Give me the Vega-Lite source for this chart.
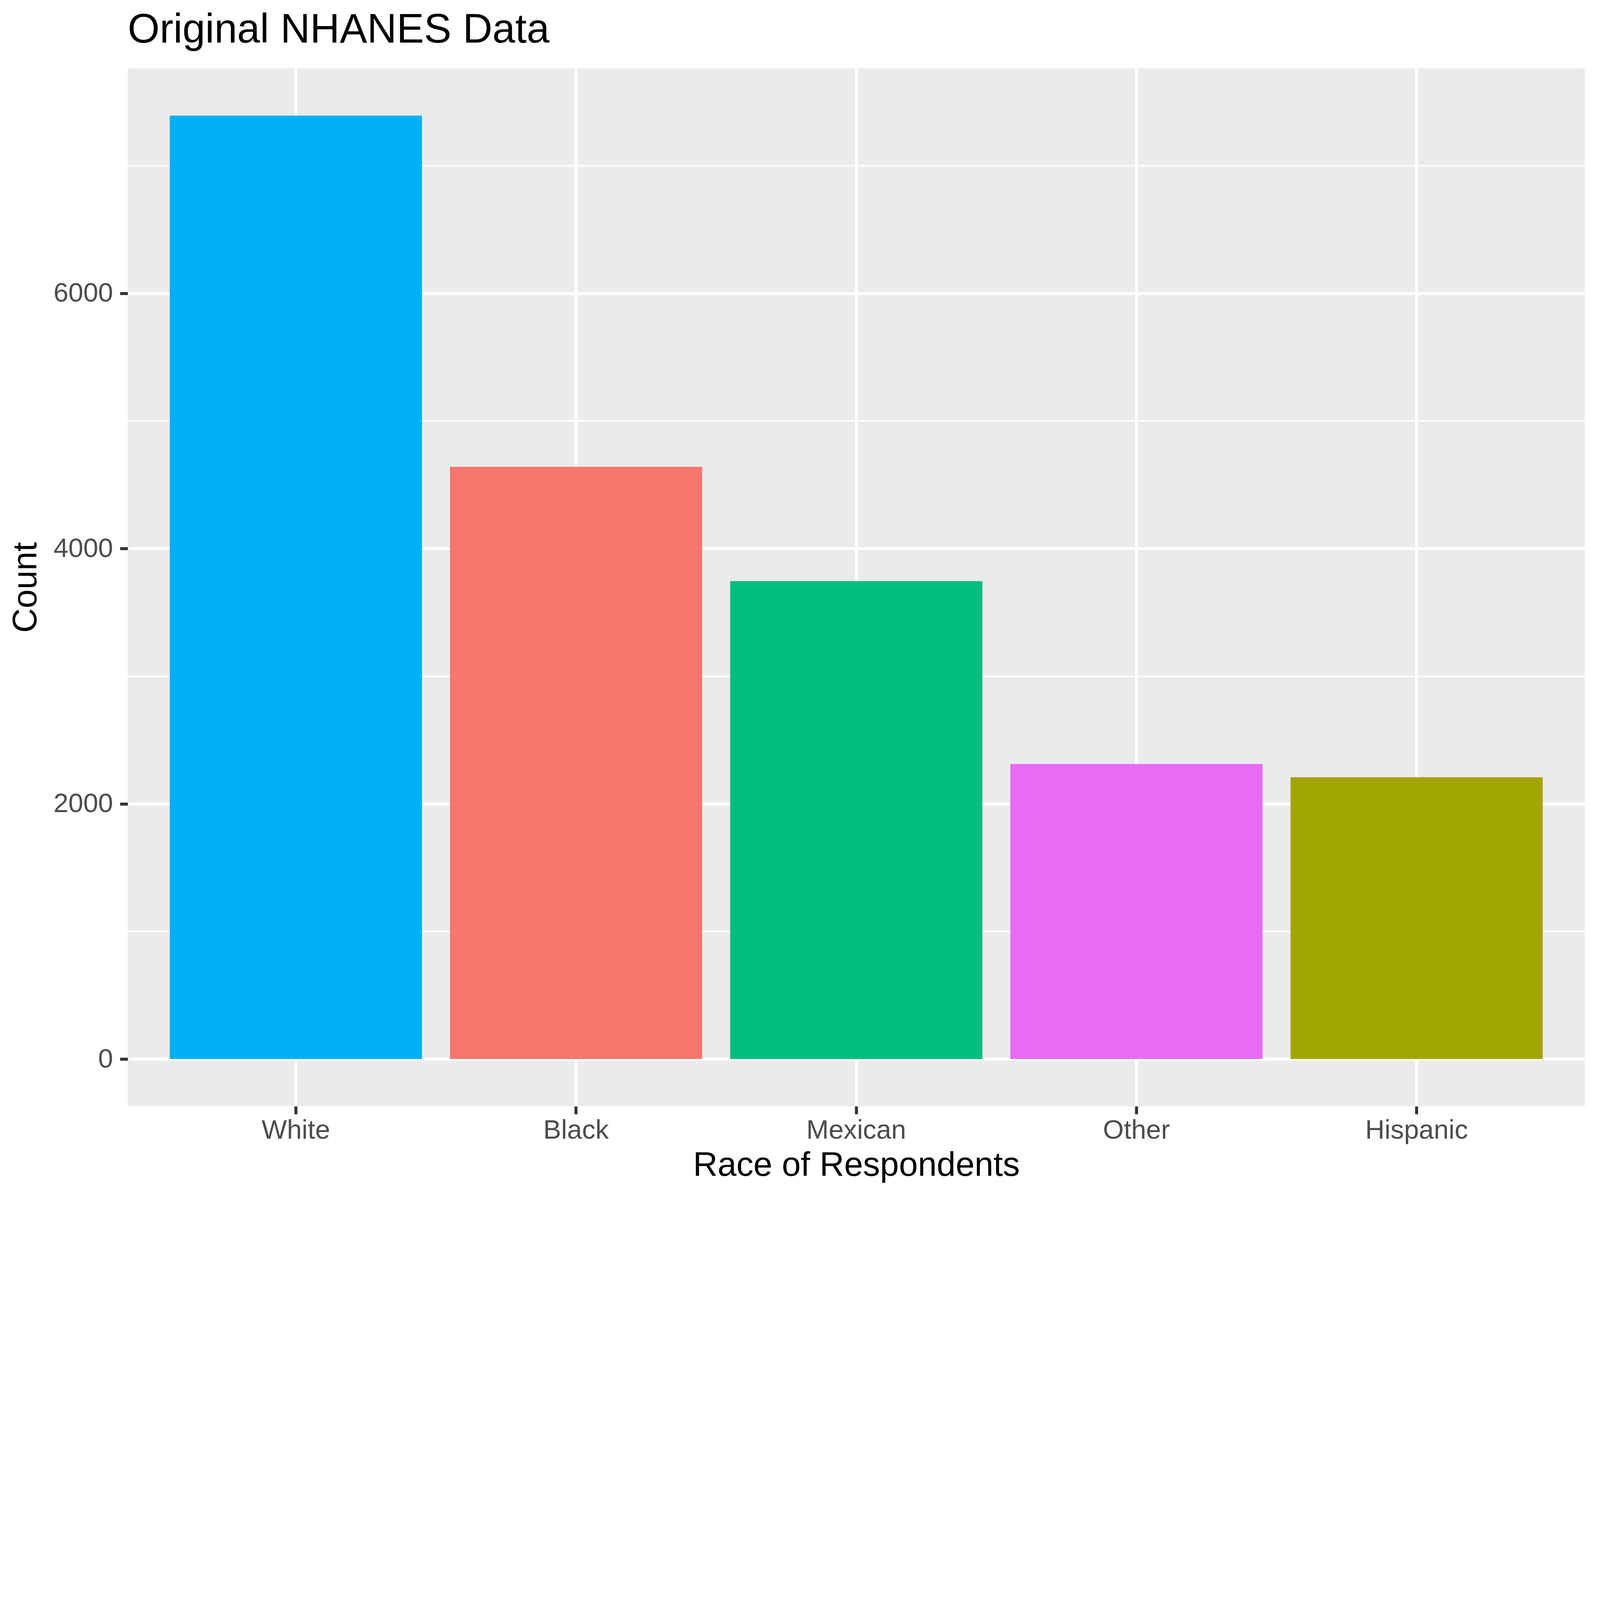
{
  "$schema": "https://vega.github.io/schema/vega-lite/v6.json",
  "autosize": {"type": "none"},
  "width": 3730,
  "height": 2657,
  "padding": {"left": 327, "top": 175, "right": 39, "bottom": 240},
  "background": "white",
  "title": {
    "text": "Original NHANES Data",
    "anchor": "start",
    "frame": "group",
    "font": "Liberation Sans",
    "fontSize": 105,
    "fontWeight": "normal",
    "color": "black",
    "offset": 44
  },
  "config": {
    "view": {"fill": "#EBEBEB", "stroke": null},
    "axis": {
      "labelFont": "Liberation Sans",
      "titleFont": "Liberation Sans",
      "labelFontSize": 68.6,
      "titleFontSize": 87,
      "titleFontWeight": "normal",
      "labelColor": "#4D4D4D",
      "titleColor": "black",
      "labelLimit": 0,
      "domain": false,
      "tickColor": "#333333",
      "tickWidth": 7.7,
      "tickSize": 20,
      "gridColor": "white",
      "gridWidth": 7.7
    },
    "axisX": {"labelPadding": 8},
    "axisY": {"labelPadding": 18}
  },
  "data": {
    "values": [
      {"race": "White", "count": 7392},
      {"race": "Black", "count": 4640},
      {"race": "Mexican", "count": 3744},
      {"race": "Other", "count": 2312},
      {"race": "Hispanic", "count": 2208}
    ]
  },
  "layer": [
    {
      "mark": {"type": "bar", "opacity": 0},
      "encoding": {
        "x": {
          "field": "race", "type": "nominal",
          "sort": ["White", "Black", "Mexican", "Other", "Hispanic"],
          "scale": {"paddingInner": 0.1, "paddingOuter": 0.15},
          "axis": {"title": "Race of Respondents", "labelAngle": 0, "grid": true, "bandPosition": 0.5, "titlePadding": 13}
        },
        "y": {
          "field": "count", "type": "quantitative",
          "scale": {"domain": [-370, 7762], "nice": false, "zero": false},
          "axis": {"values": [1000, 3000, 5000, 7000], "grid": true, "gridWidth": 3.8, "labels": false, "ticks": false, "title": null, "orient": "left"}
        }
      }
    },
    {
      "mark": {"type": "bar"},
      "encoding": {
        "x": {
          "field": "race", "type": "nominal",
          "sort": ["White", "Black", "Mexican", "Other", "Hispanic"]
        },
        "y": {
          "field": "count", "type": "quantitative",
          "axis": {"values": [0, 2000, 4000, 6000], "format": "d", "grid": true, "title": "Count", "titlePadding": 26, "orient": "left"}
        },
        "color": {
          "field": "race", "type": "nominal",
          "scale": {
            "domain": ["Black", "Hispanic", "Mexican", "White", "Other"],
            "range": ["#F8766D", "#A3A500", "#00BF7D", "#00B0F6", "#E76BF3"]
          },
          "legend": null
        }
      }
    }
  ],
  "resolve": {"axis": {"y": "independent"}}
}
